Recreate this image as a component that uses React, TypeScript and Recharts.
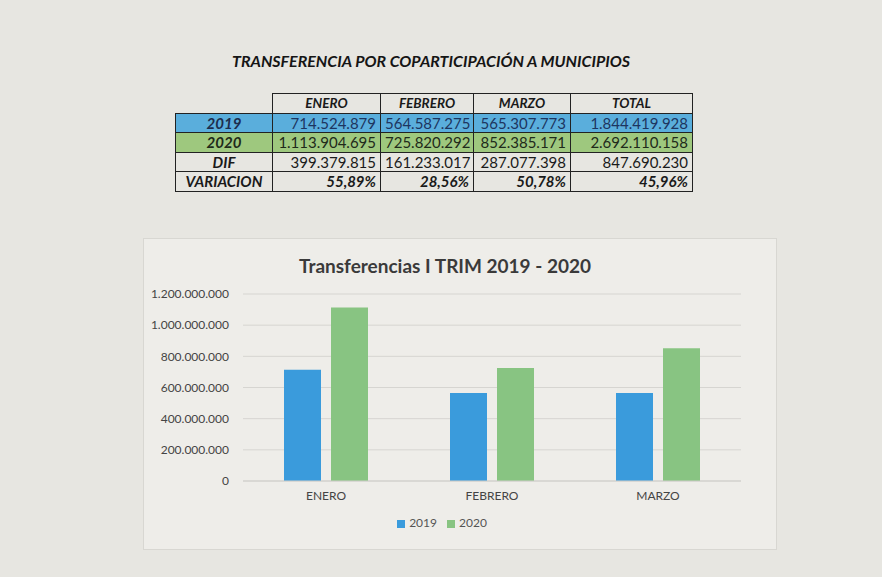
import React from "react";
import { BarChart, Bar, XAxis, YAxis, CartesianGrid, Legend } from "recharts";

// Table data
const months = ["ENERO", "FEBRERO", "MARZO"];
const values2019 = [714524879, 564587275, 565307773];
const values2020 = [1113904695, 725820292, 852385171];
const diffText = ["399.379.815", "161.233.017", "287.077.398", "847.690.230"];
const variationText = ["55,89%", "28,56%", "50,78%", "45,96%"];
const totalsText = ["1.844.419.928", "2.692.110.158"];
const yTicks = [0, 200000000, 400000000, 600000000, 800000000, 1000000000, 1200000000];

const FONT = "Lato, 'Open Sans', sans-serif";
const BLUE = "#3a9bdc";
const GREEN = "#88c482";

// 1234567 -> 1.234.567
function fmt(n: number): string {
  return String(n).replace(/\B(?=(\d{3})+(?!\d))/g, ".");
}

const data = months.map((m, i) => ({
  month: m,
  y2019: values2019[i],
  y2020: values2020[i],
}));

const colWidths = [97, 108, 93, 97, 122];

function Cell({ w, bg, align, children, bold, italic, color, noBorder, size }: any) {
  return (
    <td
      style={{
        width: w,
        boxSizing: "border-box",
        background: bg,
        textAlign: align || "center",
        fontWeight: bold ? 700 : 400,
        fontStyle: italic ? "italic" : "normal",
        color: color || "#1a1a1a",
        border: noBorder ? "none" : "1.5px solid #222",
        padding: "0 4px",
        height: 19.5,
        fontSize: size || 15,
        lineHeight: "18px",
        whiteSpace: "nowrap",
      }}
    >
      {children}
    </td>
  );
}

function DataTable() {
  const rowBlue = "#5aaedc";
  const rowGreen = "#9ec87e";
  return (
    <table
      style={{
        position: "absolute",
        left: 175,
        top: 93,
        borderCollapse: "collapse",
        tableLayout: "fixed",
        width: colWidths.reduce((a, b) => a + b, 0),
        fontFamily: FONT,
      }}
    >
      <tbody>
        <tr>
          <Cell w={colWidths[0]} noBorder />
          {months.map((m, i) => (
            <Cell key={m} w={colWidths[i + 1]} bold italic size={13.5}>
              {m}
            </Cell>
          ))}
          <Cell w={colWidths[4]} bold italic size={13.5}>TOTAL</Cell>
        </tr>
        <tr>
          <Cell w={colWidths[0]} bg={rowBlue} bold italic color="#1d2d4d">2019</Cell>
          {values2019.map((v, i) => (
            <Cell key={i} w={colWidths[i + 1]} bg={rowBlue} align="right" color="#1d3560">
              {fmt(v)}
            </Cell>
          ))}
          <Cell w={colWidths[4]} bg={rowBlue} align="right" color="#1d3560">{totalsText[0]}</Cell>
        </tr>
        <tr>
          <Cell w={colWidths[0]} bg={rowGreen} bold italic color="#1f2a1a">2020</Cell>
          {values2020.map((v, i) => (
            <Cell key={i} w={colWidths[i + 1]} bg={rowGreen} align="right" color="#1f2a1a">
              {fmt(v)}
            </Cell>
          ))}
          <Cell w={colWidths[4]} bg={rowGreen} align="right" color="#1f2a1a">{totalsText[1]}</Cell>
        </tr>
        <tr>
          <Cell w={colWidths[0]} bold italic>DIF</Cell>
          {diffText.map((t, i) => (
            <Cell key={i} w={colWidths[i + 1]} align="right">{t}</Cell>
          ))}
        </tr>
        <tr>
          <Cell w={colWidths[0]} bold italic>VARIACION</Cell>
          {variationText.map((t, i) => (
            <Cell key={i} w={colWidths[i + 1]} align="right" bold italic>{t}</Cell>
          ))}
        </tr>
      </tbody>
    </table>
  );
}

export default function App() {
  return (
    <div
      style={{
        position: "absolute",
        left: 0,
        top: 0,
        width: 882,
        height: 577,
        background: "#e7e6e1",
        overflow: "hidden",
        fontFamily: FONT,
      }}
    >
      <div
        style={{
          position: "absolute",
          left: 0,
          width: 862,
          top: 51,
          textAlign: "center",
          fontWeight: 700,
          fontStyle: "italic",
          fontSize: 16,
          color: "#151515",
        }}
      >
        TRANSFERENCIA POR COPARTICIPACIÓN A MUNICIPIOS
      </div>

      <DataTable />

      <div
        style={{
          position: "absolute",
          left: 143,
          top: 238,
          width: 632,
          height: 310,
          background: "#eeede9",
          border: "1px solid #d8d7d2",
        }}
      >
        <div
          style={{
            position: "absolute",
            left: 0,
            width: 602,
            top: 15,
            textAlign: "center",
            fontWeight: 700,
            fontSize: 19,
            color: "#3a3a3a",
          }}
        >
          Transferencias I TRIM 2019 - 2020
        </div>
        <BarChart
          width={632}
          height={310}
          data={data}
          margin={{ top: 55, right: 35, bottom: 19, left: 9 }}
          barSize={37}
          barGap={10}
          style={{ position: "absolute", left: 0, top: 0, fontFamily: FONT }}
        >
          <CartesianGrid vertical={false} stroke="#d6d5d1" />
          <XAxis
            dataKey="month"
            axisLine={{ stroke: "#d0cfcb" }}
            tickLine={false}
            tickMargin={4}
            height={34}
            tick={{ fontSize: 12, fill: "#444" }}
          />
          <YAxis
            domain={[0, 1200000000]}
            ticks={yTicks}
            tickFormatter={fmt}
            axisLine={false}
            tickLine={false}
            tickSize={0}
            tickMargin={14}
            width={90}
            tick={{ fontSize: 12, fill: "#444" }}
          />
          <Legend
            verticalAlign="bottom"
            align="center"
            iconType="square"
            iconSize={8}
            wrapperStyle={{ fontSize: 12 }}
            formatter={(v: string) => <span style={{ color: "#555" }}>{v}</span>}
          />
          <Bar dataKey="y2019" name="2019" fill={BLUE} isAnimationActive={false} />
          <Bar dataKey="y2020" name="2020" fill={GREEN} isAnimationActive={false} />
        </BarChart>
      </div>
    </div>
  );
}
